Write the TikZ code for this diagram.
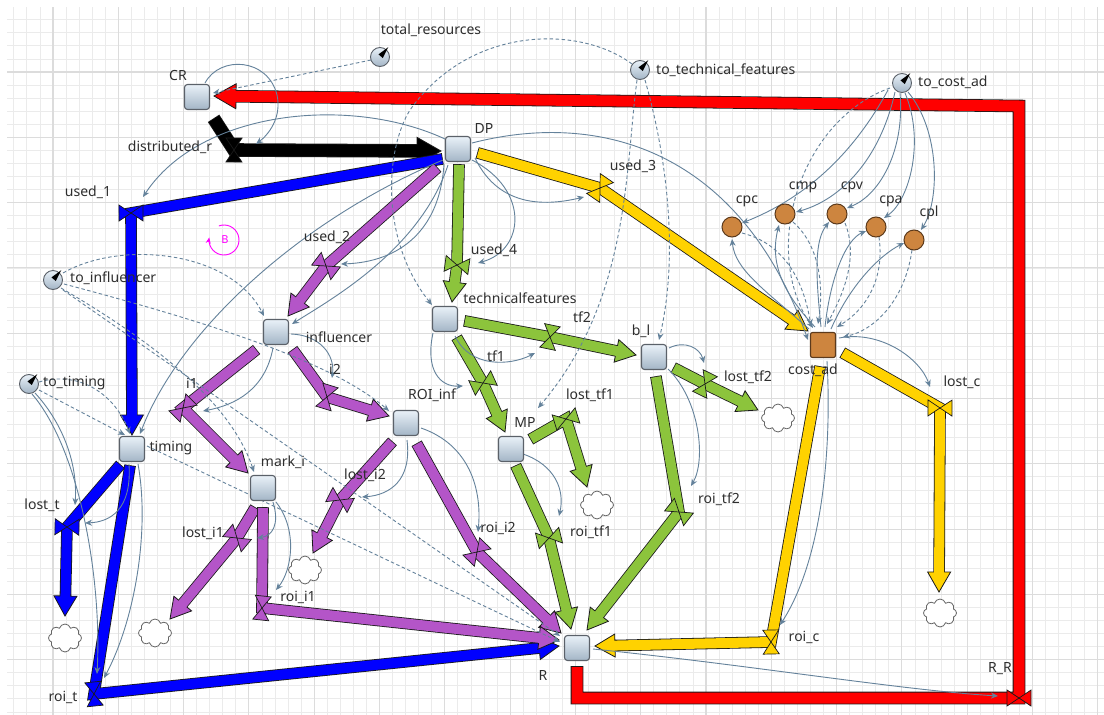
\documentclass[tikz,border=0pt]{standalone}
\usepackage{fontspec}
\setmainfont{Noto Sans}
\usetikzlibrary{calc,arrows.meta,shapes.symbols}

\definecolor{gridminor}{HTML}{EBEBEB}
\definecolor{gridmajor}{HTML}{DCDCDC}
\definecolor{pipeedge}{HTML}{1A1A1A}
\definecolor{flowred}{HTML}{FF0000}
\definecolor{flowblue}{HTML}{0000FF}
\definecolor{flowpurple}{HTML}{B455C8}
\definecolor{flowgreen}{HTML}{8CC43C}
\definecolor{flowyellow}{HTML}{FFD200}
\definecolor{paramorange}{HTML}{CD853F}
\definecolor{paramedge}{HTML}{5C3A1C}
\definecolor{linkcol}{HTML}{64829B}
\definecolor{stocktop}{HTML}{E9F1F8}
\definecolor{stockbot}{HTML}{A3B5C6}
\definecolor{stockedge}{HTML}{5B6169}
\definecolor{labelcol}{HTML}{2E2E2E}
\definecolor{loopmag}{HTML}{FF00FF}

\pgfdeclarelayer{gridlayer}
\pgfdeclarelayer{pipelayer}
\pgfdeclarelayer{linklayer}
\pgfsetlayers{gridlayer,pipelayer,linklayer,main}

% thick flow pipe: colour, width, path up to the last corner, last corner, tip
\newcommand{\flowpipe}[5]{%
  \pgfmathsetlengthmacro{\fphl}{2*#2}%
  \pgfmathsetlengthmacro{\fphc}{2*#2-3}%
  \pgfmathsetlengthmacro{\fphw}{#2+1.5}%
  \coordinate (fpB) at ($(#5)!\fphl!(#4)$);%
  \coordinate (fpC) at ($(#5)!\fphc!(#4)$);%
  \draw[line width=#2pt+1.6pt, draw=pipeedge, line join=miter, shorten <=-0.8pt] #3 -- (fpB);%
  \filldraw[fill=#1, draw=pipeedge, line width=0.8pt, line join=miter]
    (#5) -- ($(fpB)!\fphw!90:(#5)$) -- ($(fpB)!\fphw!-90:(#5)$) -- cycle;%
  \draw[line width=#2pt, draw=#1, line join=miter] #3 -- (fpC);%
}
% valve (hourglass) on a pipe: colour, centre, point along the pipe
\newcommand{\valve}[3]{%
  \coordinate (vlA) at ($(#2)!8pt!(#3)$);%
  \coordinate (vlB) at ($(#2)!-8pt!(#3)$);%
  \filldraw[fill=#1, draw=pipeedge, line width=0.7pt, line join=miter]
    (#2) -- ($(vlA)!12pt!90:(#2)$) -- ($(vlB)!12pt!-90:(#2)$) -- cycle
    (#2) -- ($(vlA)!12pt!-90:(#2)$) -- ($(vlB)!12pt!90:(#2)$) -- cycle;%
}

\begin{document}
\begin{tikzpicture}[x=1pt, y=-1pt,
  stock/.style={rectangle, rounded corners=3pt, minimum size=25pt, inner sep=0pt,
    draw=stockedge, line width=1.1pt, top color=stocktop, bottom color=stockbot},
  coststock/.style={rectangle, rounded corners=2pt, minimum size=25pt, inner sep=0pt,
    draw=paramedge, line width=1.1pt, fill=paramorange},
  conv/.style={circle, minimum size=19pt, inner sep=0pt, draw=stockedge,
    line width=0.9pt, top color=stocktop, bottom color=stockbot},
  param/.style={circle, minimum size=20pt, inner sep=0pt, draw=paramedge,
    line width=1pt, fill=paramorange},
  sink/.style={cloud, cloud puffs=8, aspect=1.25, minimum width=33pt,
    minimum height=28pt, inner sep=0pt, draw=gray!80!black, line width=0.8pt, fill=white},
  lbl/.style={font=\fontsize{14pt}{16pt}\selectfont, text=labelcol, inner sep=0pt},
  link/.style={draw=linkcol, line width=0.9pt, -{Stealth[length=7pt, width=6pt]}},
  dlink/.style={link, dash pattern=on 3.5pt off 2.5pt},
  gridthin/.style={draw=gridminor, line width=0.8pt},
  gridthick/.style={draw=gridmajor, line width=1.1pt}]

\useasboundingbox (0,0) rectangle (1104,715);

% ---------- background grid ----------
\begin{pgfonlayer}{gridlayer}
  \fill[white] (0,0) rectangle (1104,715);
  \begin{scope}
    \clip (7,7) rectangle (1104,715);
    \foreach \k in {0,...,83} \draw[gridthin] ({13.8+13.06*\k},0) -- ({13.8+13.06*\k},715);
    \foreach \k in {0,...,54} \draw[gridthin] (0,{6.7+13.06*\k}) -- (1104,{6.7+13.06*\k});
    \foreach \k in {0,...,16} \draw[gridthick] ({53+65.3*\k},0) -- ({53+65.3*\k},715);
    \foreach \k in {0,...,10} \draw[gridthick] (0,{6.7+65.3*\k}) -- (1104,{6.7+65.3*\k});
  \end{scope}
\end{pgfonlayer}

% ---------- stocks ----------
\node[stock] (CR) at (197,97) {};
\node[stock] (DP) at (458,149) {};
\node[stock] (INF) at (276,332) {};
\node[stock] (TF) at (445,319) {};
\node[stock] (BI) at (654,357) {};
\node[stock] (ROI) at (406,423) {};
\node[stock] (MP) at (511,449) {};
\node[stock] (TIM) at (132,449) {};
\node[stock] (MARK) at (263,488) {};
\node[stock] (R) at (577,648) {};
\node[coststock] (COST) at (823,345) {};

% ---------- converters ----------
\node[conv] (TR) at (380,57) {};
\node[conv] (TTF) at (640,70) {};
\node[conv] (TCA) at (902,83) {};
\node[conv] (TINF) at (53,280) {};
\node[conv] (TTIM) at (29,384) {};
\foreach \c in {TR,TTF,TCA,TINF,TTIM}
  \fill[black] ($(\c.center)!1.3!(\c.50)$) -- ($(\c.center)!0.3!(\c.-20)$)
    -- ($(\c.center)!0.3!(\c.120)$) -- cycle;

% ---------- cost parameters ----------
\node[param] (cpc) at (732,227) {};
\node[param] (cmp) at (785,214) {};
\node[param] (cpv) at (837,214) {};
\node[param] (cpa) at (876,227) {};
\node[param] (cpl) at (914,240) {};

% ---------- sinks ----------
\node[sink] (cl1) at (65,638) {};
\node[sink] (cl2) at (155,633) {};
\node[sink] (cl3) at (305,570) {};
\node[sink] (cl4) at (597,505) {};
\node[sink] (cl5) at (778,418) {};
\node[sink] (cl6) at (940,613) {};

% ---------- pipe ends and valves ----------
\coordinate (Rbot) at ($(R)+(0,19)$);
\coordinate (vRR) at (1019,698);
\coordinate (cRtop) at (1019,106);
\coordinate (CRin) at ($(CR)+(17,-1)$);
\coordinate (CRout) at ($(CR)+(17,22)$);
\coordinate (vDR) at (234,150);
\coordinate (DPinK) at ($(DP)+(-17,2)$);
\coordinate (DPoutB) at ($(DP)+(-16,10)$);
\coordinate (vU1) at (131,213);
\coordinate (TIMin) at ($(TIM)+(0,-14)$);
\coordinate (TIMoutL) at ($(TIM)+(-12,16)$);
\coordinate (vLT) at (67,527);
\coordinate (cl1in) at ($(cl1)+(0,-22)$);
\coordinate (TIMoutR) at ($(TIM)+(-2,17)$);
\coordinate (vRT) at (94,694);
\coordinate (RinB) at ($(R)+(-18,-2)$);
\coordinate (DPoutP) at ($(DP)+(-21,19)$);
\coordinate (vU2) at (326,266);
\coordinate (INFin) at ($(INF)+(12,-16)$);
\coordinate (INFoutL) at ($(INF)+(-20,18)$);
\coordinate (vI1) at (183,408);
\coordinate (MARKin) at ($(MARK)+(-15,-15)$);
\coordinate (INFoutR) at ($(INF)+(17,18)$);
\coordinate (vI2) at (327,397);
\coordinate (ROIin) at ($(ROI)+(-17,-7)$);
\coordinate (ROIoutL) at ($(ROI)+(-14,19)$);
\coordinate (vLI2) at (340,500);
\coordinate (cl3in) at ($(cl3)+(8,-17)$);
\coordinate (ROIoutR) at ($(ROI)+(11,21)$);
\coordinate (vRI2) at (477,552);
\coordinate (RinP1) at ($(R)+(-16,-15)$);
\coordinate (MARKoutL) at ($(MARK)+(-8,20)$);
\coordinate (vLI1) at (237,538);
\coordinate (cl2in) at ($(cl2)+(15,-14)$);
\coordinate (MARKoutD) at ($(MARK)+(0,20)$);
\coordinate (vRI1) at (262,608);
\coordinate (RinP2) at ($(R)+(-18,-8)$);
\coordinate (DPoutG) at ($(DP)+(1,16)$);
\coordinate (vU4) at (457,265);
\coordinate (TFin) at ($(TF)+(7,-17)$);
\coordinate (TFoutR) at ($(TF)+(20,2)$);
\coordinate (vTF2) at (550,337);
\coordinate (BIin) at ($(BI)+(-18,-2)$);
\coordinate (TFoutD) at ($(TF)+(12,19)$);
\coordinate (vTF1) at (483,383);
\coordinate (MPin) at ($(MP)+(-6,-17)$);
\coordinate (MPoutR) at ($(MP)+(20,-10)$);
\coordinate (vLTF1) at (566,419);
\coordinate (cl4in) at ($(cl4)+(-10,-18)$);
\coordinate (MPoutD) at ($(MP)+(5,17)$);
\coordinate (vRTF1) at (549,538);
\coordinate (RinG1) at ($(R)+(-6,-19)$);
\coordinate (BIoutR) at ($(BI)+(20,11)$);
\coordinate (vLTF2) at (705,384);
\coordinate (cl5in) at ($(cl5)+(-20,-8)$);
\coordinate (BIoutD) at ($(BI)+(2,20)$);
\coordinate (vRTF2) at (679,512);
\coordinate (RinG2) at ($(R)+(10,-18)$);
\coordinate (DPoutY) at ($(DP)+(20,4)$);
\coordinate (vU3) at (600,188);
\coordinate (COSTin) at ($(COST)+(-15,-14)$);
\coordinate (COSToutD) at ($(COST)+(-3,22)$);
\coordinate (vRC) at (771,642);
\coordinate (RinY) at ($(R)+(18,-2)$);
\coordinate (COSToutR) at ($(COST)+(20,8)$);
\coordinate (vLC) at (940,408);
\coordinate (cl6in) at ($(cl6)+(-1,-21)$);

% ---------- flows ----------
\begin{pgfonlayer}{pipelayer}
  \flowpipe{flowred}{11}{(Rbot) -- (R |- vRR) -- (vRR) -- (cRtop)}{cRtop}{CRin}
  \flowpipe{black}{12}{(CRout) -- (vDR)}{vDR}{DPinK}
  \flowpipe{flowblue}{10}{(DPoutB) -- (vU1)}{vU1}{TIMin}
  \flowpipe{flowblue}{10}{(TIMoutL) -- (vLT)}{vLT}{cl1in}
  \flowpipe{flowblue}{10}{(TIMoutR) -- (vRT)}{vRT}{RinB}
  \flowpipe{flowpurple}{10}{(DPoutP) -- (vU2)}{vU2}{INFin}
  \flowpipe{flowpurple}{10}{(INFoutL) -- (vI1)}{vI1}{MARKin}
  \flowpipe{flowpurple}{10}{(INFoutR) -- (vI2)}{vI2}{ROIin}
  \flowpipe{flowpurple}{10}{(ROIoutL) -- (vLI2)}{vLI2}{cl3in}
  \flowpipe{flowpurple}{10}{(ROIoutR) -- (vRI2)}{vRI2}{RinP1}
  \flowpipe{flowpurple}{10}{(MARKoutL) -- (vLI1)}{vLI1}{cl2in}
  \flowpipe{flowpurple}{10}{(MARKoutD) -- (vRI1)}{vRI1}{RinP2}
  \flowpipe{flowgreen}{10}{(DPoutG) -- (vU4)}{vU4}{TFin}
  \flowpipe{flowgreen}{10}{(TFoutR) -- (vTF2)}{vTF2}{BIin}
  \flowpipe{flowgreen}{10}{(TFoutD) -- (vTF1)}{vTF1}{MPin}
  \flowpipe{flowgreen}{10}{(MPoutR) -- (vLTF1)}{vLTF1}{cl4in}
  \flowpipe{flowgreen}{10}{(MPoutD) -- (vRTF1)}{vRTF1}{RinG1}
  \flowpipe{flowgreen}{10}{(BIoutR) -- (vLTF2)}{vLTF2}{cl5in}
  \flowpipe{flowgreen}{10}{(BIoutD) -- (vRTF2)}{vRTF2}{RinG2}
  \flowpipe{flowyellow}{10}{(DPoutY) -- (vU3)}{vU3}{COSTin}
  \flowpipe{flowyellow}{10}{(COSToutD) -- (vRC)}{vRC}{RinY}
  \flowpipe{flowyellow}{10}{(COSToutR) -- (vLC)}{vLC}{cl6in}

  \valve{flowred}{vRR}{cRtop}
  \valve{black}{vDR}{DPinK}
  \valve{flowblue}{vU1}{TIMin}
  \valve{flowblue}{vLT}{cl1in}
  \valve{flowblue}{vRT}{RinB}
  \valve{flowpurple}{vU2}{INFin}
  \valve{flowpurple}{vI1}{MARKin}
  \valve{flowpurple}{vI2}{ROIin}
  \valve{flowpurple}{vLI2}{cl3in}
  \valve{flowpurple}{vRI2}{RinP1}
  \valve{flowpurple}{vLI1}{cl2in}
  \valve{flowpurple}{vRI1}{RinP2}
  \valve{flowgreen}{vU4}{TFin}
  \valve{flowgreen}{vTF2}{BIin}
  \valve{flowgreen}{vTF1}{MPin}
  \valve{flowgreen}{vLTF1}{cl4in}
  \valve{flowgreen}{vRTF1}{RinG1}
  \valve{flowgreen}{vLTF2}{cl5in}
  \valve{flowgreen}{vRTF2}{RinG2}
  \valve{flowyellow}{vU3}{COSTin}
  \valve{flowyellow}{vRC}{RinY}
  \valve{flowyellow}{vLC}{cl6in}
\end{pgfonlayer}

% ---------- information links ----------
\begin{pgfonlayer}{linklayer}
  \draw[link] ($(CR)+(8,-14)$) .. controls (220,55) and (268,58) .. (277,95)
     .. controls (282,118) and (268,135) .. ($(vDR)+(22,-6)$);
  \draw[dlink] ($(TR)+(-9,3)$) -- ($(CR)+(16,-4)$);
  \draw[link] ($(DP)+(-13,-10)$) .. controls (350,95) and (200,110) .. ($(vU1)+(12,-16)$);
  \draw[dlink] ($(TTF)+(-8,-6)$) .. controls (580,25) and (470,25) .. (410,110)
     .. controls (385,150) and (380,240) .. ($(TF)+(-13,-14)$);
  \draw[dlink] ($(TTF)+(5,10)$) .. controls (665,150) and (680,250) .. ($(BI)+(5,-17)$);
  \draw[dlink] ($(TTF)+(-3,10)$) .. controls (625,170) and (630,300) .. ($(MP)+(27,-41)$);
  \draw[dlink] ($(TCA)+(-12,5)$) .. controls (800,120) and (760,250) .. ($(COST)+(-10,-17)$);
  % to_cost_ad to the cost parameters
  \draw[link] ($(TCA)+(-14,7)$) .. controls (850,160) and (800,200) .. ($(cpc)+(10,-4)$);
  \draw[link] ($(TCA)+(-7,9)$) .. controls (880,160) and (840,200) .. ($(cmp)+(11,-2)$);
  \draw[link] ($(TCA)+(-2,10)$) .. controls (905,150) and (880,195) .. ($(cpv)+(10,-6)$);
  \draw[link] ($(TCA)+(3,10)$) .. controls (925,140) and (910,200) .. ($(cpa)+(8,-9)$);
  \draw[link] ($(TCA)+(6,9)$) .. controls (940,130) and (940,200) .. ($(cpl)+(7,-10)$);
  % cost parameters into cost_ad
  \draw[dlink] ($(cpc)+(10,6)$) .. controls (790,245) and (805,290) .. ($(COST)+(-12,-19)$);
  \draw[dlink] ($(cmp)+(8,8)$) .. controls (825,250) and (822,300) .. ($(COST)+(-5,-21)$);
  \draw[dlink] ($(cpv)+(8,9)$) .. controls (860,260) and (840,300) .. ($(COST)+(4,-21)$);
  \draw[dlink] ($(cpa)+(3,10)$) .. controls (885,280) and (865,310) .. ($(COST)+(14,-18)$);
  \draw[dlink] ($(cpl)+(-2,10)$) .. controls (905,300) and (875,330) .. ($(COST)+(20,-8)$);
  % cost_ad back to the cost parameters
  \draw[link] ($(COST)+(-14,-16)$) .. controls (765,290) and (735,270) .. ($(cpc)+(0,12)$);
  \draw[link] ($(COST)+(-8,-18)$) .. controls (780,290) and (770,260) .. ($(cmp)+(-6,11)$);
  \draw[link] ($(COST)+(-2,-18)$) .. controls (815,270) and (815,240) .. ($(cpv)+(-8,8)$);
  \draw[link] ($(COST)+(2,-18)$) .. controls (830,280) and (845,240) .. ($(cpa)+(-10,4)$);
  \draw[link] ($(COST)+(8,-16)$) .. controls (850,285) and (880,255) .. ($(cpl)+(-10,3)$);
  % links from DP
  \draw[link] ($(DP)+(14,-6)$) .. controls (600,110) and (740,150) .. ($(COST)+(-15,-5)$);
  \draw[link] ($(DP)+(17,9)$) .. controls (500,210) and (550,205) .. ($(vU3)+(-16,9)$);
  \draw[link] ($(DP)+(14,11)$) .. controls (530,190) and (525,250) .. ($(vU4)+(21,-2)$);
  \draw[link] ($(DP)+(-14,15)$) .. controls (440,230) and (400,262) .. ($(vU2)+(15,-2)$);
  \draw[link] ($(DP)+(-10,16)$) .. controls (420,250) and (330,300) .. ($(INF)+(16,-8)$);
  \draw[link] ($(DP)+(-15,11)$) .. controls (300,220) and (180,330) .. ($(TIM)+(8,-15)$);
  % links from to_influencer
  \draw[dlink] ($(TINF)+(10,-7)$) .. controls (120,240) and (230,250) .. ($(INF)+(-12,-16)$);
  \draw[dlink] ($(TINF)+(11,4)$) .. controls (200,320) and (330,360) .. ($(ROI)+(-17,-12)$);
  \draw[dlink] ($(TINF)+(8,8)$) .. controls (150,340) and (230,400) .. ($(MARK)+(-9,-16)$);
  \draw[dlink] ($(TINF)+(10,10)$) -- ($(R)+(-17,-12)$);
  \draw[dlink] ($(TIM)+(15,-3)$) -- ($(R)+(-17,-6)$);
  % links from to_timing and timing
  \draw[dlink] ($(TTIM)+(10,6)$) -- ($(TIM)+(-7,-14)$);
  \draw[dlink] ($(TTIM)+(10,-2)$) .. controls (80,370) and (115,395) .. ($(TIM)+(-2,-15)$);
  \draw[link] ($(TTIM)+(6,9)$) .. controls (60,420) and (78,460) .. ($(vLT)+(8,-22)$);
  \draw[link] ($(TTIM)+(3,10)$) .. controls (80,450) and (102,580) .. ($(vRT)+(3,-20)$);
  \draw[link] ($(TIM)+(-3,15)$) .. controls (132,510) and (110,522) .. ($(vLT)+(18,-4)$);
  \draw[link] ($(TIM)+(6,15)$) .. controls (150,530) and (135,620) .. ($(vRT)+(10,-16)$);
  % links inside the influencer chain
  \draw[link] ($(INF)+(-3,16)$) .. controls (265,390) and (235,405) .. ($(vI1)+(20,3)$);
  \draw[link] ($(INF)+(15,2)$) .. controls (320,335) and (335,355) .. ($(vI2)+(5,-19)$);
  \draw[link] ($(ROI)+(1,17)$) .. controls (412,480) and (390,495) .. ($(vLI2)+(22,-3)$);
  \draw[link] ($(ROI)+(15,5)$) .. controls (470,445) and (482,490) .. ($(vRI2)+(1,-20)$);
  \draw[link] ($(MARK)+(10,14)$) .. controls (280,525) and (272,536) .. ($(vLI1)+(20,0)$);
  \draw[link] ($(MARK)+(13,14)$) .. controls (298,530) and (292,570) .. ($(vRI1)+(14,-18)$);
  % links inside the technical features chain
  \draw[link] ($(TF)+(-12,14)$) .. controls (425,370) and (440,387) .. ($(vTF1)+(-20,3)$);
  \draw[link] ($(TF)+(10,17)$) .. controls (470,368) and (510,366) .. ($(vTF2)+(-15,16)$);
  \draw[link] ($(MP)+(12,5)$) .. controls (555,465) and (565,490) .. ($(vRTF1)+(10,-22)$);
  \draw[link] ($(BI)+(15,-9)$) .. controls (685,340) and (700,348) .. ($(vLTF2)+(-1,-21)$);
  \draw[link] ($(BI)+(14,12)$) .. controls (700,400) and (706,460) .. ($(vRTF2)+(12,-26)$);
  % links from cost_ad and R
  \draw[link] ($(COST)+(16,-7)$) .. controls (880,330) and (920,358) .. ($(vLC)+(-10,-21)$);
  \draw[link] ($(COST)+(4,16)$) .. controls (832,450) and (822,560) .. ($(vRC)+(9,-17)$);
  \draw[link] ($(R)+(16,1)$) .. controls (750,665) and (900,690) .. ($(vRR)+(-21,-2)$);
\end{pgfonlayer}

% ---------- labels ----------
\node[lbl] (tCR) at (178,76) {CR};
\node[lbl] (tTR) at (431,30) {total\_resources};
\node[lbl, anchor=west] (tTTF) at (656,70) {to\_technical\_features};
\node[lbl, anchor=west] (tTCA) at (918,82) {to\_cost\_ad};
\node[lbl] (tDP) at (484,128) {DP};
\node[lbl] (tDR) at (170,147) {distributed\_r};
\node[lbl] (tU1) at (88,192) {used\_1};
\node[lbl] (tU2) at (327,237) {used\_2};
\node[lbl] (tU3) at (633,166) {used\_3};
\node[lbl] (tU4) at (494,250) {used\_4};
\node[lbl] (tcpc) at (747,201) {cpc};
\node[lbl] (tcmp) at (803,187) {cmp};
\node[lbl] (tcpv) at (852,187) {cpv};
\node[lbl] (tcpa) at (891,201) {cpa};
\node[lbl] (tcpl) at (929,213) {cpl};
\node[lbl, anchor=west] (tTINF) at (70,278) {to\_influencer};
\node[lbl] (tINF) at (339,337) {influencer};
\node[lbl] (tTF) at (520,298) {technicalfeatures};
\node[lbl] (tTF2) at (582,317) {tf2};
\node[lbl] (tTF1) at (496,356) {tf1};
\node[lbl] (tBI) at (641,331) {b\_l};
\node[lbl] (tLTF2) at (748,377) {lost\_tf2};
\node[lbl] (tCOST) at (813,370) {cost\_ad};
\node[lbl] (tLC) at (962,382) {lost\_c};
\node[lbl, anchor=west] (tTTIM) at (43,383) {to\_timing};
\node[lbl] (tI1) at (192,383) {i1};
\node[lbl] (tI2) at (335,369) {i2};
\node[lbl] (tROI) at (432,395) {ROI\_inf};
\node[lbl] (tMP) at (525,422) {MP};
\node[lbl] (tLTF1) at (590,395) {lost\_tf1};
\node[lbl] (tTIM) at (171,448) {timing};
\node[lbl] (tMARK) at (283,462) {mark\_i};
\node[lbl] (tLI2) at (365,475) {lost\_i2};
\node[lbl] (tLT) at (42,505) {lost\_t};
\node[lbl] (tLI1) at (203,533) {lost\_i1};
\node[lbl] (tRI1) at (298,597) {roi\_i1};
\node[lbl] (tRI2) at (498,528) {roi\_i2};
\node[lbl] (tRTF1) at (591,532) {roi\_tf1};
\node[lbl] (tRTF2) at (719,499) {roi\_tf2};
\node[lbl] (tRC) at (804,637) {roi\_c};
\node[lbl] (tR) at (543,675) {R};
\node[lbl] (tRR) at (1000,669) {R\_R};
\node[lbl] (tRT) at (63,697) {roi\_t};

% ---------- balancing loop marker ----------
\begin{scope}[shift={(224,240)}, y=1pt]
  \draw[loopmag, line width=0.9pt, -{Stealth[length=6pt, width=5pt]}]
    (110:15) arc[start angle=110, end angle=-190, radius=15];
  \node[text=loopmag, font=\fontsize{11pt}{13pt}\selectfont, inner sep=0pt] (loopB) at (1,0) {B};
\end{scope}

\end{tikzpicture}
\end{document}
